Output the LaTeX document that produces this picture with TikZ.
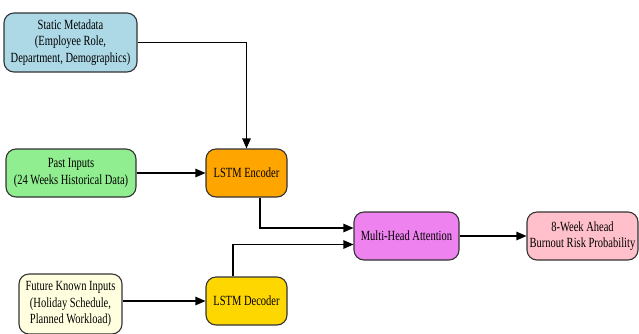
\documentclass[tikz,border=0pt]{standalone}
\usepackage{fontspec}
\setmainfont{Liberation Serif}[FakeStretch=0.75]
\usetikzlibrary{positioning, arrows.meta}

\tikzset{
  block/.style={draw=black!80, line width=1.1pt, rounded corners=10pt, align=center,
    inner sep=2pt, font=\fontsize{14}{16.5}\selectfont},
  flow/.style={line width=1.1pt, -{Triangle[length=10pt,width=8.5pt]}}
}

\begin{document}
\begin{tikzpicture}[x=1pt, y=-1pt]
\useasboundingbox (0,0) rectangle (639,333);

% Input blocks
\node[block, fill={rgb,255:red,173;green,216;blue,230}, minimum width=133pt, minimum height=59pt]
  (static) at (70.5,42.5) {Static Metadata\\(Employee Role,\\Department, Demographics)};
\node[block, fill={rgb,255:red,144;green,238;blue,144}, minimum width=130pt, minimum height=48pt]
  (past) at (71,173) {Past Inputs\\(24 Weeks Historical Data)};
\node[block, fill={rgb,255:red,255;green,255;blue,224}, minimum width=103pt, minimum height=60pt]
  (future) at (70.5,304) {Future Known Inputs\\(Holiday Schedule,\\Planned Workload)};

% LSTM blocks
\node[block, fill={rgb,255:red,255;green,165;blue,0}, minimum width=81pt, minimum height=48pt]
  (enc) at (246.5,173) {LSTM Encoder};
\node[block, fill={rgb,255:red,255;green,215;blue,0}, minimum width=81pt, minimum height=48pt]
  (dec) at (246.5,301) {LSTM Decoder};

% Attention and output
\node[block, fill={rgb,255:red,238;green,130;blue,238}, minimum width=105pt, minimum height=48pt]
  (att) at (406.5,236) {Multi-Head Attention};
\node[block, fill={rgb,255:red,255;green,192;blue,203}, minimum width=111pt, minimum height=48pt]
  (out) at (582.5,236) {8-Week Ahead\\Burnout Risk Probability};

% Connections
\draw[flow] (static.east) -| (enc.north);
\draw[flow] (past) -- (enc);
\draw[flow] (future.east |- dec.west) -- (dec.west);
\draw[flow] ([xshift=13.5pt]enc.south) |- ([yshift=8pt]att.west);
\draw[flow] ([xshift=-13.5pt]dec.north) |- ([yshift=-8.5pt]att.west);
\draw[flow] (att) -- (out);
\end{tikzpicture}
\end{document}
